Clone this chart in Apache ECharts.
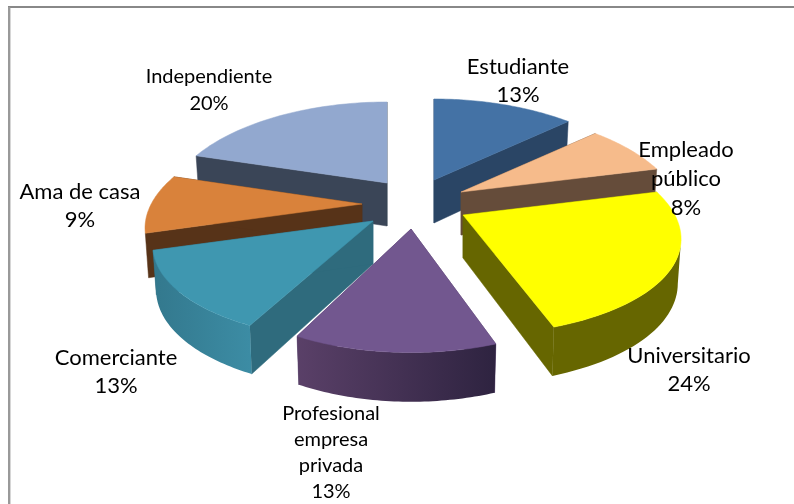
<!DOCTYPE html>
<html>
<head>
<meta charset="utf-8">
<style>html,body{margin:0;padding:0;background:#fff}#c{width:794px;height:504px}</style>
<script src="https://cdn.jsdelivr.net/npm/echarts@6/dist/echarts.min.js"></script>
</head>
<body>
<div id="c"></div>
<script>
// ---- data (slice shares; the printed labels are rounded to whole percent) ----
const categories = ['Estudiante', 'Empleado público', 'Universitario', 'Profesional empresa privada', 'Comerciante', 'Ama de casa', 'Independiente'];
const values = [13, 8, 23.6, 12.9, 12.9, 9.4, 20.2];
const labelLines = [['Estudiante'], ['Empleado', 'público'], ['Universitario'], ['Profesional', 'empresa', 'privada'], ['Comerciante'], ['Ama de casa'], ['Independiente']];

// ---- style ----
const topColors = ['#4472a5', '#f6bb8b', '#ffff00', '#72578f', '#3f97b0', '#d9823b', '#92a8cf'];
const edgeColors = ['#2a4565', '#654c3a', '#666600', '#4a3560', '#2f6b7d', '#573318', '#3a4557'];
const wallStops = [['#2a4565', '#2a4565'], ['#654c3a', '#654c3a'], ['#666600', '#666600'], ['#5a4068', '#2e2340'], ['#33788d', '#3c8ca4'], ['#573318', '#573318'], ['#3a4557', '#3a4557']];

// ---- layout: exploded apex of each slice, per-slice perspective tweak, label anchors, draw order ----
const apexes = [[434, 180], [461, 192], [463, 215], [411, 229], [373, 221], [362, 204], [387, 183]];
const scaleX = [1, 1, 0.99, 0.925, 1, 0.985, 1];
const scaleY = [1, 1, 1, 1.025, 1, 1, 1];
const labelAnchors = [[518, 81], [686, 179], [689, 370], [331, 453], [116, 372], [80, 206], [209, 90]];
const labelSizes = [22, 22, 22, 20, 22, 22, 20];
const labelLeading = [28, 29, 28, 26, 28, 28, 27];
const drawOrder = [6, 0, 5, 1, 4, 2, 3];
const R = 214, KY = 96.9, PX = 0.237, PY = 0.196, DEPTH = 43;

const total = values.reduce((a, b) => a + b, 0);
const starts = [];
values.reduce((acc, v, i) => { starts[i] = acc; return acc + v; }, 0);

function proj(i, theta) {
  const apex = apexes[i];
  const u = Math.sin(theta), v = -Math.cos(theta), s = 1 / (1 - PX * v);
  return { x: apex[0] + scaleX[i] * R * u * s, y: apex[1] + scaleY[i] * KY * v / (1 - PY * v), s };
}
function drop(apex, p) {
  return [apex[0] + (p.x - apex[0]) * 0.985, p.y + DEPTH * Math.pow(p.s, 0.5)];
}

function renderItem(params, api) {
  const i = drawOrder[params.dataIndex];
  const apex = apexes[i];
  const a0 = starts[i] / total * 2 * Math.PI;
  const a1 = (starts[i] + values[i]) / total * 2 * Math.PI;
  const n = 48, arc = [];
  for (let k = 0; k <= n; k++) arc.push(proj(i, a0 + (a1 - a0) * k / n));
  const apexDrop = [apex[0], apex[1] + DEPTH];
  const children = [];
  const first = arc[0], last = arc[n];
  // radial walls
  [first, last].forEach(p => {
    children.push({
      type: 'polygon',
      shape: { points: [apex, [p.x, p.y], drop(apex, p), apexDrop] },
      style: { fill: edgeColors[i], stroke: edgeColors[i], lineWidth: 0.5 }
    });
  });
  // outer rim: front-facing portion only
  const rim = arc.filter((p, k) => k < n ? arc[k + 1].x < p.x : arc[k - 1].x > p.x);
  if (rim.length > 1) {
    const topEdge = rim.map(p => [p.x, p.y]);
    const botEdge = rim.map(p => drop(apex, p)).reverse();
    const xs = topEdge.map(p => p[0]);
    const minX = Math.min(...xs), maxX = Math.max(...xs);
    children.push({
      type: 'polygon',
      shape: { points: topEdge.concat(botEdge) },
      style: {
        stroke: null,
        fill: new echarts.graphic.LinearGradient(minX, 0, maxX, 0, [
          { offset: 0, color: wallStops[i][0] },
          { offset: 1, color: wallStops[i][1] }
        ], true)
      }
    });
  }
  // top face
  children.push({
    type: 'polygon',
    shape: { points: [apex].concat(arc.map(p => [p.x, p.y])) },
    style: { fill: topColors[i], stroke: topColors[i], lineWidth: 0.5 }
  });
  return { type: 'group', children };
}

function renderLabel(params, api) {
  const i = params.dataIndex;
  return {
    type: 'text',
    x: labelAnchors[i][0],
    y: labelAnchors[i][1],
    style: {
      text: labelLines[i].concat([Math.round(values[i]) + '%']).join('\n'),
      fontFamily: 'Lato',
      fontSize: labelSizes[i],
      lineHeight: labelLeading[i],
      fill: '#000',
      align: 'center',
      verticalAlign: 'middle'
    }
  };
}

const chart = echarts.init(document.getElementById('c'), null, { renderer: 'canvas' });
chart.setOption({
  animation: false,
  backgroundColor: '#fff',
  tooltip: { show: false },
  graphic: [
    { type: 'line', silent: true, z: 0, shape: { x1: 8, y1: 7, x2: 794, y2: 7 }, style: { stroke: '#888888', lineWidth: 2 } },
    { type: 'line', silent: true, z: 0, shape: { x1: 9.2, y1: 7, x2: 9.2, y2: 504 }, style: { stroke: '#999999', lineWidth: 2.4 } }
  ],
  series: [
    { type: 'custom', coordinateSystem: 'none', silent: true, z: 2, renderItem,
      data: drawOrder.map(i => ({ name: categories[i], value: values[i] })) },
    { type: 'custom', coordinateSystem: 'none', silent: true, z: 3, renderItem: renderLabel,
      data: categories.map((c, i) => ({ name: c, value: values[i] })) }
  ]
});
</script>
</body>
</html>
